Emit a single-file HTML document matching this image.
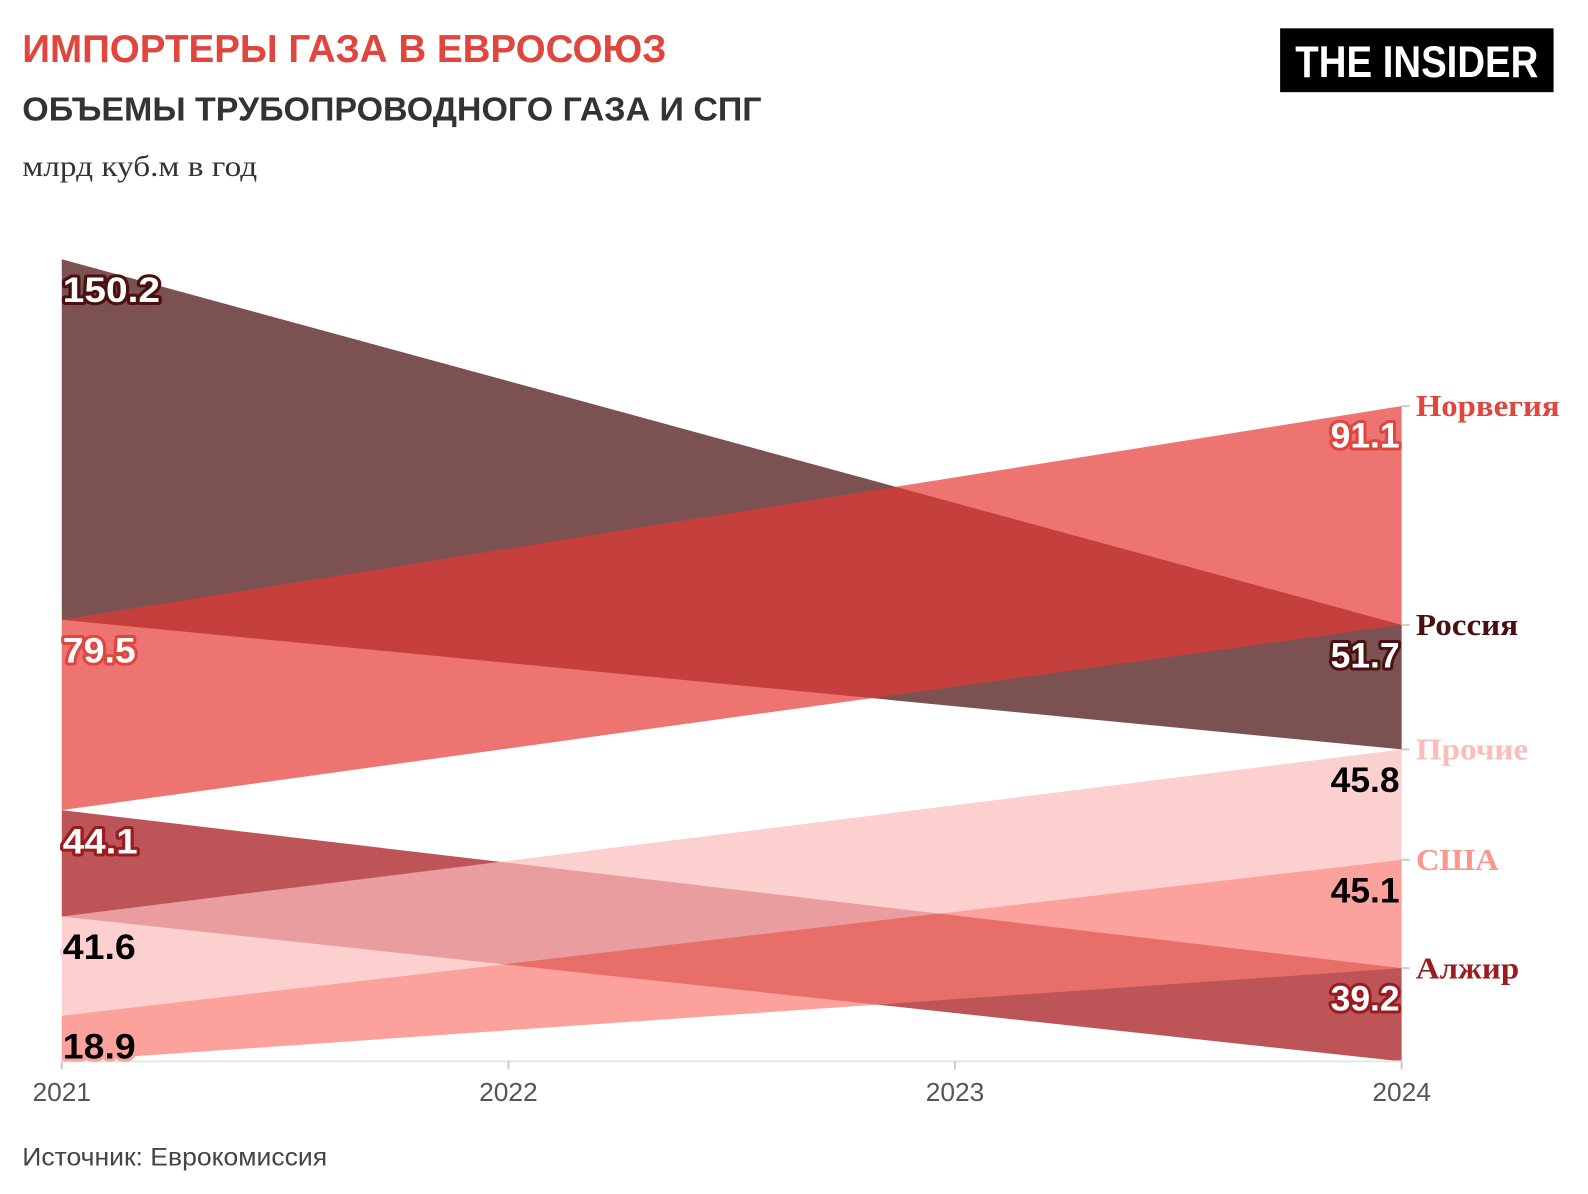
<!DOCTYPE html>
<html><head><meta charset="utf-8"><style>
html,body{margin:0;padding:0;background:#fff;width:1588px;height:1194px;overflow:hidden}
svg{display:block}
</style></head><body>
<svg width="1588" height="1194" viewBox="0 0 1568 1179" preserveAspectRatio="none" xmlns="http://www.w3.org/2000/svg">
<text x="22" y="61" font-family="Liberation Sans, sans-serif" font-weight="bold" font-size="38" fill="#e0463d" textLength="636" lengthAdjust="spacingAndGlyphs">ИМПОРТЕРЫ ГАЗА В ЕВРОСОЮЗ</text>
<text x="22" y="119" font-family="Liberation Sans, sans-serif" font-weight="bold" font-size="33" fill="#333" textLength="730" lengthAdjust="spacingAndGlyphs">ОБЪЕМЫ ТРУБОПРОВОДНОГО ГАЗА И СПГ</text>
<text x="22" y="174" font-family="Liberation Serif, serif" font-size="29" fill="#333" textLength="232" lengthAdjust="spacingAndGlyphs">млрд куб.м в год</text>
<rect x="1264" y="28" width="270" height="63" fill="#000"/>
<text x="1399" y="76" text-anchor="middle" font-family="Liberation Sans, sans-serif" font-weight="bold" font-size="44" fill="#fff" textLength="240" lengthAdjust="spacingAndGlyphs">THE INSIDER</text>

<polygon points="61,256 1384,617 1384,740 61,612" fill="#7b5151"/>
<polygon points="61,612 1384,401 1384,617 61,800" fill="#e53935" fill-opacity="0.7"/>
<polygon points="61,800 1384,956 1384,1048 61,905" fill="#bd5558"/>
<polygon points="61,905 1384,740 1384,849 61,1003" fill="#fcbcbc" fill-opacity="0.7"/>
<polygon points="61,1003 1384,849 1384,956 61,1048" fill="#fb7970" fill-opacity="0.7"/>

<line x1="61" y1="1048" x2="1384" y2="1048" stroke="#e6e6e6" stroke-width="2"/>
<g stroke="#ccc" stroke-width="2">
<line x1="61" y1="1048" x2="61" y2="1056"/><line x1="502" y1="1048" x2="502" y2="1056"/><line x1="943" y1="1048" x2="943" y2="1056"/><line x1="1384" y1="1048" x2="1384" y2="1056"/>
<line x1="1384" y1="401" x2="1392" y2="401"/><line x1="1384" y1="617" x2="1392" y2="617"/><line x1="1384" y1="740" x2="1392" y2="740"/><line x1="1384" y1="849" x2="1392" y2="849"/><line x1="1384" y1="956" x2="1392" y2="956"/>
</g>
<g font-family="Liberation Sans, sans-serif" font-size="26" fill="#555" text-anchor="middle">
<text x="61" y="1087">2021</text><text x="502" y="1087">2022</text><text x="943" y="1087">2023</text><text x="1384" y="1087">2024</text>
</g>
<g font-family="Liberation Serif, serif" font-weight="bold" font-size="30">
<text x="1398" y="411" fill="#e0463d" textLength="142" lengthAdjust="spacingAndGlyphs">Норвегия</text>
<text x="1398" y="627" fill="#4a0f0f" textLength="101" lengthAdjust="spacingAndGlyphs">Россия</text>
<text x="1398" y="750" fill="#fcbcbc" textLength="111" lengthAdjust="spacingAndGlyphs">Прочие</text>
<text x="1398" y="859" fill="#f99891" textLength="82" lengthAdjust="spacingAndGlyphs">США</text>
<text x="1398" y="966" fill="#9b1c1f" textLength="102" lengthAdjust="spacingAndGlyphs">Алжир</text>
</g>
<g font-family="Liberation Sans, sans-serif" font-weight="bold" font-size="35" stroke-width="6" paint-order="stroke" stroke-linejoin="round">
<text x="62" y="298" fill="#fff" stroke="#4a0f0f" textLength="96" lengthAdjust="spacingAndGlyphs">150.2</text>
<text x="62" y="654" fill="#fff" stroke="#e0463d" textLength="72" lengthAdjust="spacingAndGlyphs">79.5</text>
<text x="62" y="843" fill="#fff" stroke="#9b1c1f" textLength="74" lengthAdjust="spacingAndGlyphs">44.1</text>
<text x="62" y="947" fill="#000" stroke="#fdd0d0" textLength="72" lengthAdjust="spacingAndGlyphs">41.6</text>
<text x="62" y="1045" fill="#000" stroke="#fca19c" textLength="72" lengthAdjust="spacingAndGlyphs">18.9</text>
<g text-anchor="end">
<text x="1382" y="442" fill="#fff" stroke="#e0463d">91.1</text>
<text x="1382" y="659" fill="#fff" stroke="#4a0f0f">51.7</text>
<text x="1382" y="782" fill="#000" stroke="#fdd0d0">45.8</text>
<text x="1382" y="891" fill="#000" stroke="#fca19c">45.1</text>
<text x="1382" y="998" fill="#fff" stroke="#9b1c1f">39.2</text>
</g></g>
<text x="22" y="1151" font-family="Liberation Sans, sans-serif" font-size="25" fill="#444" textLength="301" lengthAdjust="spacingAndGlyphs">Источник: Еврокомиссия</text>
</svg>
</body></html>
